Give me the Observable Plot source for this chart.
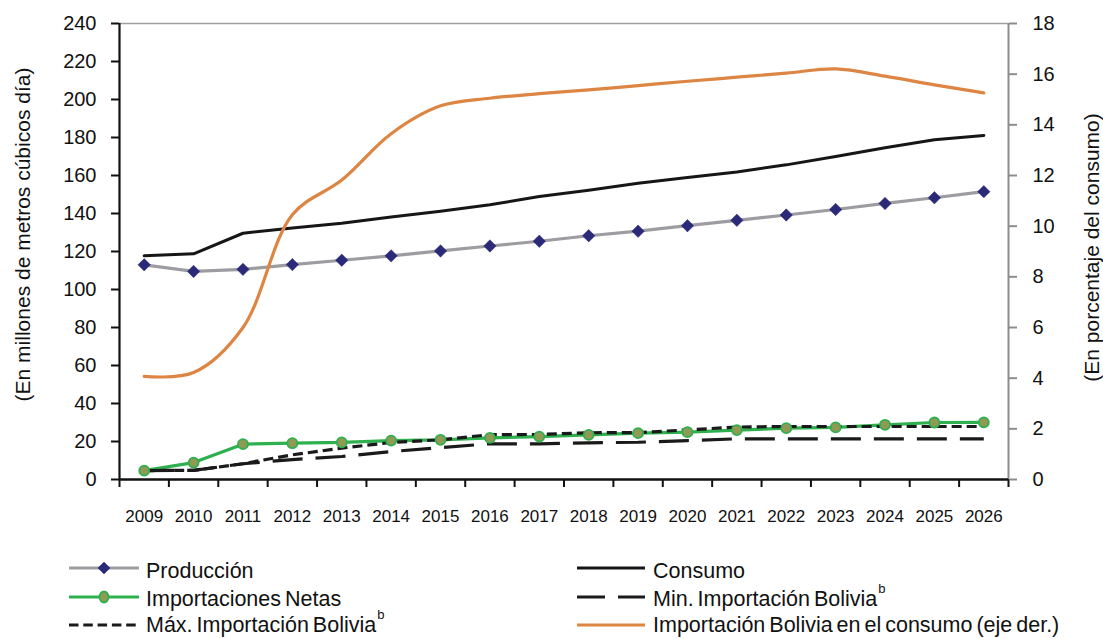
<!DOCTYPE html>
<html>
<head>
<meta charset="utf-8">
<script src="https://cdn.jsdelivr.net/npm/d3@7"></script>
<script src="https://cdn.jsdelivr.net/npm/@observablehq/plot@0.6"></script>
<style>
  body { margin: 0; background: #fff; font-family: "Liberation Sans", Arial, sans-serif; }
  #wrap { position: relative; width: 1103px; height: 639px; overflow: hidden; background: #fff; }
  #chart { position: absolute; left: 0; top: 0; }
  .lg { position: absolute; font-size: 21.5px; line-height: 21.5px; word-spacing: -2px; white-space: nowrap; color: #111; }
  .sw { position: absolute; overflow: visible; }
  .sup { position: relative; top: -13px; font-size: 13px; margin-left: 1px; }
</style>
</head>
<body>
<div id="wrap">
  <div id="chart"></div>
</div>
<script>
// ---- data ----
const years = [2009, 2010, 2011, 2012, 2013, 2014, 2015, 2016, 2017, 2018, 2019, 2020, 2021, 2022, 2023, 2024, 2025, 2026];
const produccion = [113.0, 109.5, 110.6, 113.1, 115.4, 117.7, 120.3, 122.9, 125.4, 128.3, 130.7, 133.6, 136.4, 139.2, 142.1, 145.3, 148.3, 151.5];
const consumo = [117.7, 118.8, 129.6, 132.4, 134.9, 138.1, 141.2, 144.6, 148.9, 152.2, 155.9, 158.9, 161.9, 165.6, 170.0, 174.6, 178.8, 181.1];
const importacionesNetas = [4.7, 8.9, 18.6, 19.1, 19.5, 20.5, 20.9, 21.9, 22.6, 23.5, 24.4, 24.9, 26.0, 27.0, 27.4, 28.8, 30.0, 30.1];
const maxImportBolivia = [4.7, 4.8, 8.3, 13.0, 16.5, 19.5, 20.9, 23.6, 23.7, 24.6, 24.7, 26.1, 27.6, 27.9, 27.9, 27.9, 27.9, 27.9];
const minImportBolivia = [4.7, 4.8, 8.3, 10.5, 12.1, 14.7, 16.8, 18.8, 18.8, 19.3, 19.6, 20.5, 21.4, 21.4, 21.4, 21.4, 21.4, 21.4];
const pctBoliviaConsumo = [4.07, 4.22, 6.0, 10.45, 11.82, 13.65, 14.75, 15.05, 15.23, 15.38, 15.55, 15.72, 15.88, 16.04, 16.21, 15.92, 15.58, 15.26];

const leftTicks = [0, 20, 40, 60, 80, 100, 120, 140, 160, 180, 200, 220, 240];
const rightTicks = [0, 2, 4, 6, 8, 10, 12, 14, 16, 18];
const leftTitle = "(En millones de metros cúbicos día)";
const rightTitle = "(En porcentaje del consumo)";

const legendItems = [
  {label: "Producción", col: 0, row: 0, type: "prod"},
  {label: "Consumo", col: 1, row: 0, type: "cons"},
  {label: "Importaciones Netas", col: 0, row: 1, type: "net"},
  {label: "Min. Importación Bolivia", sup: "b", col: 1, row: 1, type: "min"},
  {label: "Máx. Importación Bolivia", sup: "b", col: 0, row: 2, type: "max"},
  {label: "Importación Bolivia en el consumo (eje der.)", col: 1, row: 2, type: "pct"}
];

// ---- colours / styles ----
const C = {
  prod: "#9d9da1", diamond: "#2a2a78", cons: "#161616", net: "#2fb04f",
  netFill: "#8f9a55", dash: "#1a1a1a", pct: "#dd8543"
};

// right axis (0–18 %) is mapped onto the left axis domain (0–240)
const k = 240 / 18;

const data = years.map((y, i) => ({
  year: y,
  prod: produccion[i],
  cons: consumo[i],
  net: importacionesNetas[i],
  max: maxImportBolivia[i],
  min: minImportBolivia[i],
  pct: pctBoliviaConsumo[i]
}));

const boundaries = d3.range(0, years.length + 1).map(i => years[0] - 0.5 + i);

const chart = Plot.plot({
  width: 1103,
  height: 535,
  marginLeft: 119,
  marginRight: 95,
  marginTop: 23,
  marginBottom: 56,
  style: {fontFamily: "'Liberation Sans', Arial, sans-serif", background: "white", color: "#111", overflow: "visible"},
  x: {domain: [years[0] - 0.5, years[years.length - 1] + 0.5], axis: null},
  y: {domain: [0, 240], axis: null},
  marks: [
    // frame: grey top & right
    Plot.ruleY([240], {stroke: "#a0a0a0", strokeWidth: 1.5}),
    Plot.ruleX([years[years.length - 1] + 0.5], {stroke: "#8c8c8c", strokeWidth: 2}),
    // axes
    Plot.axisX({ticks: boundaries, tickSize: 8, tickFormat: () => "", label: null, stroke: "#111", strokeWidth: 2}),
    Plot.axisX({ticks: years, tickSize: 0, tickPadding: 30, tickFormat: d => String(d), label: null, fontSize: 17}),
    Plot.axisY({ticks: leftTicks, tickSize: 8, tickPadding: 15, fontSize: 20, label: null, stroke: "#111", strokeWidth: 2}),
    Plot.axisY({anchor: "right", ticks: rightTicks.map(v => v * k), tickFormat: d => String(Math.round(d / k)),
      tickSize: 8, tickPadding: 16, fontSize: 20, label: null, stroke: "#8c8c8c", strokeWidth: 2}),
    // series
    Plot.line(data, {x: "year", y: "prod", stroke: C.prod, strokeWidth: 3.2}),
    Plot.line(data, {x: "year", y: "cons", stroke: C.cons, strokeWidth: 3}),
    Plot.line(data, {x: "year", y: "net", stroke: C.net, strokeWidth: 3.2}),
    Plot.line(data, {x: "year", y: "min", stroke: C.dash, strokeWidth: 3.2, strokeDasharray: "30,13", strokeLinecap: "butt"}),
    Plot.line(data, {x: "year", y: "max", stroke: C.dash, strokeWidth: 3.2, strokeDasharray: "10,5", strokeLinecap: "butt"}),
    Plot.dot(data, {x: "year", y: "net", r: 5, fill: C.netFill, stroke: C.net, strokeWidth: 1.8}),
    Plot.dot(data, {x: "year", y: "prod", symbol: "diamond2", r: 5.6, fill: C.diamond, stroke: C.diamond, strokeWidth: 0.5}),
    Plot.line(data, {x: "year", y: d => d.pct * k, stroke: C.pct, strokeWidth: 3.2, curve: "catmull-rom"}),
    // black left & bottom axis lines
    Plot.ruleX([years[0] - 0.5], {stroke: "#111", strokeWidth: 2.2}),
    Plot.ruleY([0], {stroke: "#111", strokeWidth: 2.6}),
    // axis titles
    Plot.text([leftTitle], {frameAnchor: "left", textAnchor: "middle", rotate: -90, dx: -96, dy: -17, fontSize: 21, fill: "#111"}),
    Plot.text([rightTitle], {frameAnchor: "right", textAnchor: "middle", rotate: -90, dx: 84, dy: -4, fontSize: 21, fill: "#111"})
  ]
});
document.getElementById("chart").appendChild(chart);

// ---- legend (HTML below the SVG) ----
const wrap = document.getElementById("wrap");
const colX = [{sw: 69, w: 70, text: 146}, {sw: 577, w: 68, text: 653}];
const rowBase = [579, 607, 633.5];
const rowLine = [568, 596.5, 624.5];
legendItems.forEach(it => {
  const cx = colX[it.col];
  const w = cx.w;
  const ly = rowLine[it.row];
  const svg = d3.create("svg").attr("class", "sw").attr("width", w).attr("height", 16)
    .style("left", cx.sw + "px").style("top", (ly - 8) + "px");
  const line = svg.append("line").attr("x1", 0).attr("x2", w).attr("y1", 8).attr("y2", 8)
    .attr("stroke-width", 3.2);
  if (it.type === "prod") {
    line.attr("stroke", C.prod);
    svg.append("path").attr("d", "M0,-6.3L6.3,0L0,6.3L-6.3,0Z").attr("transform", `translate(${w / 2},8)`).attr("fill", C.diamond);
  } else if (it.type === "cons") {
    line.attr("stroke", C.cons);
  } else if (it.type === "net") {
    line.attr("stroke", C.net);
    svg.append("ellipse").attr("cx", w / 2).attr("cy", 8).attr("rx", 4.5).attr("ry", 5.5)
      .attr("fill", C.netFill).attr("stroke", C.net).attr("stroke-width", 1.8);
  } else if (it.type === "min") {
    line.attr("stroke", C.dash).attr("stroke-dasharray", "28,13");
  } else if (it.type === "max") {
    line.attr("stroke", C.dash).attr("stroke-dasharray", "9.5,4.8");
  } else if (it.type === "pct") {
    line.attr("stroke", C.pct);
  }
  wrap.appendChild(svg.node());
  const t = document.createElement("div");
  t.className = "lg";
  t.style.left = cx.text + "px";
  t.style.top = (rowBase[it.row] - 18.2) + "px";
  t.textContent = it.label;
  if (it.sup) {
    const s = document.createElement("span");
    s.className = "sup";
    s.textContent = it.sup;
    t.appendChild(s);
  }
  wrap.appendChild(t);
});
</script>
</body>
</html>
